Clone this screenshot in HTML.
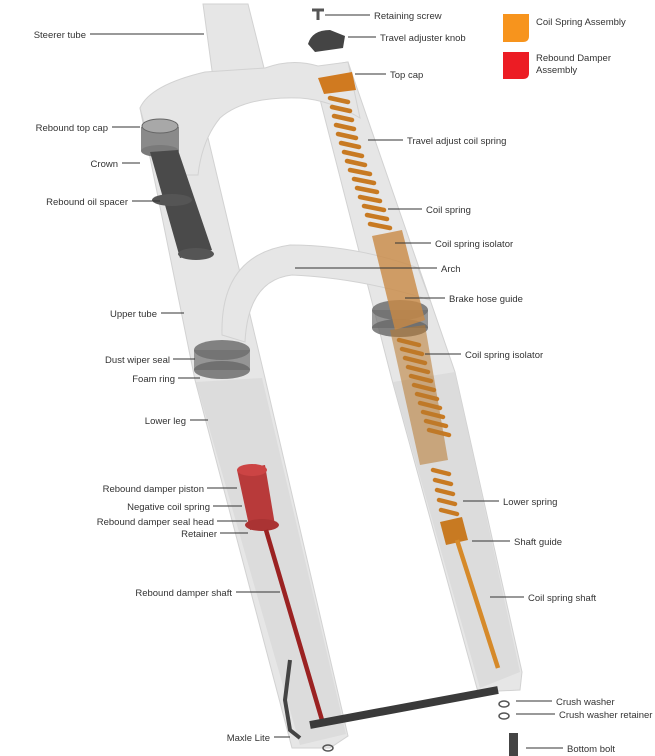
<!DOCTYPE html>
<html><head><style>
html,body{margin:0;padding:0;background:#fff;}
svg{display:block;}
text{font-family:"Liberation Sans",sans-serif;font-size:9.5px;fill:#333;}
</style></head><body>
<svg width="655" height="756" viewBox="0 0 655 756" xmlns="http://www.w3.org/2000/svg">
<!-- Fork body -->
<g fill="#e6e6e6" stroke="#d2d2d2" stroke-width="1">
  <polygon points="203,4 248,4 265,72 213,78"/>
  <polygon points="140,108 200,104 265,378 348,736 330,748 292,748 195,380"/>
  <polygon points="312,68 348,62 455,372 522,672 520,690 478,692 392,380"/>
  <path d="M140,108 Q150,85 205,72 L265,68 Q292,58 318,66 L348,62 L360,118 Q330,100 300,98 Q245,96 220,118 Q202,140 198,175 L158,175 Z"/>
  <path d="M222,335 Q220,255 290,245 Q355,245 418,268 L430,300 Q360,278 292,275 Q248,280 245,342 Z"/>
</g>
<polygon points="196,382 262,378 346,734 300,745" fill="#d9d9d9" opacity="0.8"/>
<polygon points="393,382 455,372 520,672 480,688" fill="#d9d9d9" opacity="0.8"/>
<!-- rebound parts (left upper) -->
<rect x="141" y="127" width="38" height="24" fill="#8a8a8a"/>
<ellipse cx="160" cy="151" rx="19" ry="6" fill="#7a7a7a"/>
<ellipse cx="160" cy="126" rx="18" ry="7" fill="#a8a8a8" stroke="#666"/>
<polygon points="150,152 178,150 212,250 180,258" fill="#4a4a4a"/>
<ellipse cx="196" cy="254" rx="18" ry="6" fill="#555"/>
<ellipse cx="172" cy="200" rx="20" ry="6" fill="#555"/>
<!-- dust wiper seal -->
<rect x="194" y="350" width="56" height="20" fill="#7a7a7a" opacity="0.75"/>
<ellipse cx="222" cy="350" rx="28" ry="10" fill="#6e6e6e" opacity="0.85"/>
<ellipse cx="222" cy="370" rx="28" ry="9" fill="#666" opacity="0.8"/>
<!-- right seal -->
<rect x="372" y="310" width="56" height="18" fill="#7a7a7a" opacity="0.75"/>
<ellipse cx="400" cy="310" rx="28" ry="10" fill="#6e6e6e" opacity="0.85"/>
<ellipse cx="400" cy="328" rx="28" ry="9" fill="#666" opacity="0.8"/>
<!-- orange coil assembly -->
<g fill="none" stroke="#c87a22" stroke-width="4.5" stroke-linecap="round">
  <path d="M330,98 l18,4 M332,107 l18,4 M334,116 l18,4 M336,125 l18,4 M338,134 l18,4 M341,143 l18,4 M344,152 l18,4 M347,161 l18,4 M350,170 l20,4 M354,179 l20,4 M357,188 l20,4 M360,197 l20,4 M364,206 l20,4 M367,215 l20,4 M370,224 l20,4"/>
  <path d="M399,340 l20,5 M402,349 l20,5 M405,358 l20,5 M408,367 l20,5 M411,376 l20,5 M414,385 l20,5 M417,394 l20,5 M420,403 l20,5 M423,412 l20,5 M426,421 l20,5 M429,430 l20,5"/>
  <path d="M433,470 l16,4 M435,480 l16,4 M437,490 l16,4 M439,500 l16,4 M441,510 l16,4"/>
</g>
<polygon points="318,78 352,72 356,90 324,94" fill="#d07a20"/>
<polygon points="372,236 402,230 425,320 395,330" fill="#c98a45" opacity="0.8"/>
<polygon points="390,330 425,325 448,460 420,465" fill="#b8782e" opacity="0.55"/>
<polygon points="440,522 462,517 468,540 446,545" fill="#c87a22"/>
<line x1="457" y1="540" x2="498" y2="668" stroke="#d68a2a" stroke-width="4.5"/>
<!-- red damper -->
<polygon points="237,470 265,465 275,525 250,530" fill="#b83a3a"/>
<ellipse cx="252" cy="470" rx="15" ry="6" fill="#c44"/>
<ellipse cx="262" cy="525" rx="17" ry="6" fill="#a33"/>
<line x1="266" y1="530" x2="322" y2="720" stroke="#9b2222" stroke-width="4.5"/>
<!-- axle -->
<line x1="310" y1="725" x2="498" y2="690" stroke="#3a3a3a" stroke-width="8"/>
<path d="M290,660 L285,700 L290,730 L300,738" stroke="#444" stroke-width="4" fill="none"/>
<!-- small parts -->
<path d="M312,10 l12,0 M318,10 l0,10" stroke="#555" stroke-width="3"/>
<path d="M308,44 Q312,30 330,30 L345,36 L343,48 L315,52 Z" fill="#444"/>
<ellipse cx="328" cy="748" rx="5" ry="3" fill="none" stroke="#555" stroke-width="1.5"/>
<ellipse cx="504" cy="704" rx="5" ry="3" fill="none" stroke="#555" stroke-width="1.5"/>
<ellipse cx="504" cy="716" rx="5" ry="3" fill="none" stroke="#555" stroke-width="1.5"/>
<rect x="509" y="733" width="9" height="23" fill="#444"/>
<!-- leader lines -->
<g stroke="#333" stroke-width="1">
  <line x1="90" y1="34" x2="204" y2="34"/>
  <line x1="112" y1="127" x2="140" y2="127"/>
  <line x1="122" y1="163" x2="140" y2="163"/>
  <line x1="132" y1="201" x2="160" y2="201"/>
  <line x1="161" y1="313" x2="184" y2="313"/>
  <line x1="173" y1="359" x2="195" y2="359"/>
  <line x1="178" y1="378" x2="200" y2="378"/>
  <line x1="190" y1="420" x2="208" y2="420"/>
  <line x1="207" y1="488" x2="237" y2="488"/>
  <line x1="213" y1="506" x2="242" y2="506"/>
  <line x1="217" y1="521" x2="247" y2="521"/>
  <line x1="220" y1="533" x2="248" y2="533"/>
  <line x1="236" y1="592" x2="280" y2="592"/>
  <line x1="274" y1="737" x2="290" y2="737"/>
  <line x1="325" y1="15" x2="370" y2="15"/>
  <line x1="348" y1="37" x2="376" y2="37"/>
  <line x1="355" y1="74" x2="386" y2="74"/>
  <line x1="368" y1="140" x2="403" y2="140"/>
  <line x1="388" y1="209" x2="422" y2="209"/>
  <line x1="395" y1="243" x2="431" y2="243"/>
  <line x1="295" y1="268" x2="437" y2="268"/>
  <line x1="405" y1="298" x2="445" y2="298"/>
  <line x1="425" y1="354" x2="461" y2="354"/>
  <line x1="463" y1="501" x2="499" y2="501"/>
  <line x1="472" y1="541" x2="510" y2="541"/>
  <line x1="490" y1="597" x2="524" y2="597"/>
  <line x1="516" y1="701" x2="552" y2="701"/>
  <line x1="516" y1="714" x2="555" y2="714"/>
  <line x1="526" y1="748" x2="563" y2="748"/>
</g>
<!-- labels -->
<g text-anchor="end">
  <text x="86" y="38">Steerer tube</text>
  <text x="108" y="131">Rebound top cap</text>
  <text x="118" y="167">Crown</text>
  <text x="128" y="205">Rebound oil spacer</text>
  <text x="157" y="317">Upper tube</text>
  <text x="170" y="363">Dust wiper seal</text>
  <text x="175" y="382">Foam ring</text>
  <text x="186" y="424">Lower leg</text>
  <text x="204" y="492">Rebound damper piston</text>
  <text x="210" y="510">Negative coil spring</text>
  <text x="214" y="525">Rebound damper seal head</text>
  <text x="217" y="537">Retainer</text>
  <text x="232" y="596">Rebound damper shaft</text>
  <text x="270" y="741">Maxle Lite</text>
</g>
<text x="374" y="19">Retaining screw</text>
<text x="380" y="41">Travel adjuster knob</text>
<text x="390" y="78">Top cap</text>
<text x="407" y="144">Travel adjust coil spring</text>
<text x="426" y="213">Coil spring</text>
<text x="435" y="247">Coil spring isolator</text>
<text x="441" y="272">Arch</text>
<text x="449" y="302">Brake hose guide</text>
<text x="465" y="358">Coil spring isolator</text>
<text x="503" y="505">Lower spring</text>
<text x="514" y="545">Shaft guide</text>
<text x="528" y="601">Coil spring shaft</text>
<text x="556" y="705">Crush washer</text>
<text x="559" y="718">Crush washer retainer</text>
<text x="567" y="752">Bottom bolt</text>
<!-- legend -->
<path d="M503,14 H529 V36 Q529,42 523,42 H503 Z" fill="#f7941d"/>
<path d="M503,52 H529 V73 Q529,79 523,79 H503 Z" fill="#ec1c24"/>
<text x="536" y="25">Coil Spring Assembly</text>
<text x="536" y="61">Rebound Damper</text>
<text x="536" y="73">Assembly</text>
</svg>
</body></html>
